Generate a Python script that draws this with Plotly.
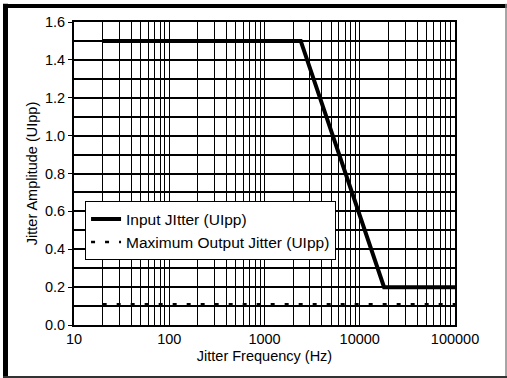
import plotly.graph_objects as go

# Data
input_freq = [20, 2400, 18000, 100000]
input_amp = [1.5, 1.5, 0.2, 0.2]
output_freq = [20, 100000]
output_amp = [0.11, 0.11]
x_tick_vals = [10, 100, 1000, 10000, 100000]
x_tick_text = ["10", "100", "1000", "10000", "100000"]
y_tick_vals = [0.0, 0.2, 0.4, 0.6, 0.8, 1.0, 1.2, 1.4, 1.6]
y_tick_text = ["0.0", "0.2", "0.4", "0.6", "0.8", "1.0", "1.2", "1.4", "1.6"]

fig = go.Figure()
fig.add_trace(go.Scatter(x=input_freq, y=input_amp, mode="lines",
                         name="Input JItter (UIpp)",
                         line=dict(color="black", width=4)))
fig.add_trace(go.Scatter(x=output_freq, y=output_amp, mode="lines",
                         name="Maximum Output Jitter (UIpp)",
                         line=dict(color="black", width=2.5, dash="4px,10px")))

frame = [
    dict(x0=-0.1798, x1=-0.1798, y0=-0.175, y1=1.06, w=5, c="black"),   # left
    dict(x0=-0.186, x1=1.14, y0=1.0528, y1=1.0528, w=4, c="black"),     # top
    dict(x0=1.1339, x1=1.1339, y0=-0.175, y1=1.06, w=1.5, c="#888888"), # right
    dict(x0=-0.186, x1=1.14, y0=-0.1715, y1=-0.1715, w=2, c="#333333"),  # bottom
]
shapes = [dict(type="line", xref="paper", yref="paper",
               x0=f["x0"], x1=f["x1"], y0=f["y0"], y1=f["y1"],
               line=dict(color=f["c"], width=f["w"]), layer="above")
          for f in frame]

fig.update_layout(
    width=507, height=378,
    margin=dict(l=74, r=52, t=22, b=53),
    paper_bgcolor="white", plot_bgcolor="white",
    font=dict(family="Liberation Sans, Arial, sans-serif", color="black", size=14),
    showlegend=True,
    legend=dict(x=0.029, y=0.408, xanchor="left", yanchor="top",
                bgcolor="white", bordercolor="black", borderwidth=1,
                font=dict(size=15.5), tracegroupgap=0, itemwidth=30),
    shapes=shapes,
)
fig.update_xaxes(
    type="log", range=[1, 5], automargin=False,
    tickvals=x_tick_vals, ticktext=x_tick_text,
    showgrid=True, gridcolor="black", gridwidth=1.3,
    minor=dict(showgrid=True, gridcolor="black", gridwidth=1.3, dtick="D1"),
    showline=True, linecolor="black", linewidth=2, mirror=True,
    ticks="", tickfont=dict(size=14.5),
    title=dict(text="Jitter Frequency (Hz)", font=dict(size=14.5), standoff=4),
    zeroline=False,
)
fig.update_yaxes(
    range=[0, 1.6], automargin=False,
    tickvals=y_tick_vals, ticktext=y_tick_text,
    showgrid=True, gridcolor="black", gridwidth=2,
    minor=dict(showgrid=True, gridcolor="black", gridwidth=2, dtick=0.1),
    showline=True, linecolor="black", linewidth=2, mirror=True,
    ticks="outside", ticklen=4, tickcolor="black", tickfont=dict(size=14.5),
    title=dict(text="Jitter Amplitude (UIpp)", font=dict(size=14.5), standoff=4),
    zeroline=False,
)

fig.write_html("out.html", config={"displayModeBar": False},
               post_script="document.body.style.margin='0';")
